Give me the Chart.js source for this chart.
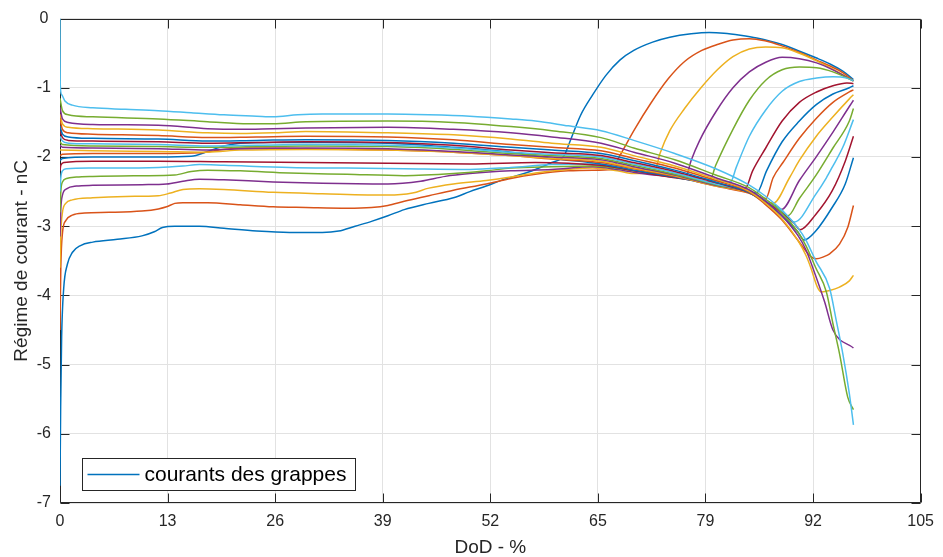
<!DOCTYPE html>
<html><head><meta charset="utf-8">
<script src="https://cdn.jsdelivr.net/npm/chart.js@4.4.1/dist/chart.umd.min.js"></script>
<style>html,body{margin:0;padding:0;background:#fff;}canvas{display:block;}</style>
</head><body>
<canvas id="c" width="943" height="557"></canvas>
<script>
// ---- data ----
const xTickLabels = ['0','13','26','39','52','65','79','92','105'];
const xTitle = 'DoD - %';
const yTitle = 'Régime de courant - nC';
const legendLabel = 'courants des grappes';

const cluster01 = [[0,-6.75],[0.08,-5.6],[0.2,-4.6],[0.45,-3.9],[0.9,-3.55],[1.5,-3.38],[2.5,-3.28],[4,-3.23],[7,-3.19],[10,-3.14],[11.5,-3.08],[12.5,-3.02],[14,-3.0],[17,-3.0],[20,-3.03],[24,-3.07],[28,-3.09],[32,-3.09],[34,-3.07],[36,-3.0],[38,-2.93],[40,-2.85],[42,-2.76],[45,-2.67],[48,-2.59],[50,-2.5],[52,-2.42],[54,-2.33],[56,-2.26],[58,-2.18],[60,-2.08],[61.5,-1.98],[62.3,-1.75],[63.5,-1.4],[65,-1.1],[66.6,-0.82],[68.3,-0.6],[70,-0.46],[72.3,-0.34],[74.4,-0.27],[77,-0.22],[79.2,-0.2],[81,-0.21],[83,-0.24],[85,-0.28],[88,-0.37],[90,-0.46],[92.3,-0.57],[94,-0.66],[95.5,-0.76],[96.8,-0.88]];
const cluster02 = [[0,-4.5],[0.1,-3.6],[0.3,-3.1],[0.7,-2.92],[1.5,-2.84],[3,-2.81],[6,-2.8],[10,-2.78],[12,-2.75],[13,-2.72],[14,-2.67],[15,-2.66],[18,-2.66],[22,-2.69],[26,-2.72],[30,-2.73],[35,-2.74],[38,-2.73],[40,-2.7],[42,-2.64],[45,-2.56],[48,-2.48],[52,-2.39],[55,-2.31],[58,-2.25],[62,-2.2],[65,-2.19],[67.3,-2.18],[68.3,-1.98],[70.1,-1.6],[72.1,-1.22],[74.2,-0.87],[76.2,-0.62],[78.3,-0.46],[80.3,-0.37],[82.1,-0.31],[84.1,-0.29],[86,-0.32],[88,-0.39],[90,-0.48],[92.3,-0.6],[94.2,-0.7],[95.5,-0.78],[96.8,-0.9]];
const cluster03 = [[0,-3.6],[0.1,-3.1],[0.3,-2.8],[0.7,-2.67],[1.5,-2.62],[4,-2.59],[8,-2.57],[12,-2.56],[13.5,-2.52],[15,-2.47],[17,-2.46],[20,-2.47],[26,-2.51],[32,-2.53],[40,-2.55],[43,-2.52],[45,-2.45],[48,-2.39],[52,-2.34],[55,-2.29],[58,-2.23],[62,-2.18],[65,-2.16],[68,-2.2],[70,-2.24],[72.5,-2.22],[73.2,-1.95],[74.4,-1.62],[76.2,-1.3],[78.2,-1.0],[80.2,-0.74],[82.1,-0.55],[84.1,-0.44],[86.1,-0.41],[88.1,-0.42],[90.2,-0.5],[92.3,-0.61],[94.3,-0.73],[96.8,-0.9]];
const cluster04 = [[0,-3.15],[0.1,-2.75],[0.3,-2.55],[0.8,-2.46],[2,-2.42],[4,-2.41],[10,-2.4],[13,-2.39],[15,-2.35],[17,-2.32],[20,-2.33],[26,-2.36],[32,-2.38],[40,-2.39],[44,-2.35],[47,-2.28],[50,-2.24],[55,-2.2],[60,-2.18],[65,-2.14],[68,-2.18],[71,-2.24],[74,-2.28],[76.3,-2.3],[77,-2.05],[78,-1.77],[80,-1.35],[82.1,-1.0],[84.1,-0.77],[86.1,-0.63],[88.1,-0.56],[90.2,-0.58],[92.3,-0.64],[94.3,-0.74],[96.8,-0.9]];
const cluster05 = [[0,-2.8],[0.1,-2.5],[0.3,-2.36],[0.8,-2.31],[2,-2.29],[4,-2.28],[10,-2.27],[14,-2.26],[16,-2.21],[18,-2.19],[22,-2.2],[28,-2.23],[35,-2.25],[42,-2.27],[48,-2.24],[52,-2.2],[55,-2.16],[60,-2.14],[65,-2.13],[70,-2.2],[74,-2.27],[77,-2.33],[79.2,-2.36],[80,-2.12],[82.1,-1.6],[84.1,-1.18],[86.1,-0.89],[88.1,-0.74],[90.2,-0.7],[92.3,-0.71],[94.3,-0.77],[96.8,-0.9]];
const cluster06 = [[0,-2.5],[0.1,-2.3],[0.3,-2.2],[0.8,-2.17],[4,-2.16],[12,-2.15],[15,-2.13],[17,-2.11],[20,-2.12],[28,-2.15],[35,-2.16],[42,-2.17],[50,-2.18],[55,-2.15],[60,-2.11],[65,-2.1],[70,-2.16],[75,-2.25],[79,-2.32],[81.8,-2.36],[82.5,-2.15],[84.1,-1.7],[86.1,-1.32],[88.1,-1.05],[90.2,-0.91],[92.3,-0.86],[94.3,-0.84],[96,-0.86],[96.8,-0.9]];
const cluster07 = [[0,-2.2],[0.1,-2.12],[0.5,-2.08],[4,-2.06],[12,-2.06],[20,-2.07],[30,-2.08],[40,-2.09],[50,-2.1],[58,-2.08],[62,-2.09],[66,-2.12],[70,-2.2],[75,-2.3],[80,-2.38],[83.6,-2.45],[84.5,-2.2],[86.1,-1.87],[88.1,-1.48],[90.2,-1.21],[92.3,-1.06],[94.3,-0.97],[96,-0.93],[96.8,-0.94]];
const cluster08 = [[0,-2.05],[0.3,-2.02],[4,-2.0],[12,-2.0],[16,-1.99],[18,-1.92],[20,-1.84],[22,-1.8],[26,-1.79],[32,-1.79],[40,-1.8],[48,-1.86],[55,-1.93],[60,-2.02],[66,-2.1],[70,-2.19],[75,-2.29],[80,-2.41],[83,-2.47],[85,-2.52],[86.2,-2.2],[88.1,-1.78],[90.2,-1.48],[92.3,-1.24],[94.3,-1.09],[96.3,-1.0],[96.8,-0.97]];
const cluster09 = [[0,-1.98],[0.3,-1.96],[4,-1.95],[12,-1.95],[17,-1.94],[20,-1.89],[23,-1.87],[30,-1.88],[40,-1.9],[48,-1.93],[55,-1.98],[60,-2.03],[66,-2.08],[70,-2.17],[75,-2.28],[80,-2.42],[84,-2.52],[86.1,-2.6],[87,-2.3],[88.2,-2.08],[90.2,-1.73],[92.2,-1.45],[94.3,-1.21],[96.3,-1.06],[96.8,-1.03]];
const cluster10 = [[0,-1.9],[4,-1.91],[12,-1.92],[18,-1.93],[22,-1.9],[30,-1.89],[40,-1.9],[48,-1.93],[55,-1.98],[60,-2.02],[66,-2.06],[70,-2.16],[75,-2.27],[80,-2.42],[84,-2.51],[86,-2.62],[87,-2.67],[89,-2.3],[90.2,-2.05],[92.2,-1.71],[94.3,-1.42],[96.3,-1.16],[96.8,-1.1]];
const cluster11 = [[0,-1.83],[0.3,-1.86],[4,-1.87],[12,-1.88],[18,-1.9],[22,-1.88],[30,-1.87],[40,-1.88],[48,-1.92],[55,-1.97],[60,-2.0],[66,-2.04],[70,-2.14],[75,-2.26],[80,-2.41],[84,-2.5],[86,-2.62],[88,-2.76],[90.2,-2.34],[92.3,-1.99],[94.3,-1.64],[96.3,-1.27],[96.8,-1.18]];
const cluster12 = [[0,-1.78],[0.3,-1.82],[4,-1.84],[12,-1.85],[18,-1.86],[24,-1.85],[30,-1.84],[40,-1.85],[48,-1.89],[55,-1.95],[60,-1.98],[66,-2.02],[70,-2.12],[75,-2.25],[80,-2.4],[84,-2.5],[86,-2.62],[88,-2.76],[88.8,-2.85],[90.2,-2.6],[92.2,-2.27],[94.3,-1.87],[96.3,-1.48],[96.8,-1.3]];
const cluster13 = [[0,-1.7],[0.3,-1.77],[1,-1.8],[4,-1.81],[12,-1.82],[18,-1.84],[24,-1.83],[30,-1.82],[40,-1.83],[48,-1.87],[55,-1.93],[60,-1.96],[66,-2.0],[70,-2.1],[75,-2.23],[80,-2.39],[84,-2.5],[86,-2.62],[88,-2.78],[89.6,-2.94],[92.2,-2.54],[93.5,-2.3],[94.2,-2.15],[95.5,-1.86],[96.8,-1.46]];
const cluster14 = [[0,-1.62],[0.3,-1.72],[1,-1.76],[4,-1.77],[12,-1.78],[18,-1.8],[24,-1.79],[30,-1.78],[40,-1.79],[48,-1.83],[55,-1.9],[60,-1.94],[66,-1.98],[70,-2.08],[75,-2.21],[80,-2.37],[84,-2.51],[86,-2.64],[88,-2.8],[89.5,-2.95],[90.3,-3.05],[92.2,-2.83],[94.2,-2.49],[95.8,-2.06],[96.8,-1.7]];
const cluster15 = [[0,-1.55],[0.3,-1.67],[1,-1.71],[4,-1.73],[12,-1.74],[18,-1.77],[24,-1.76],[30,-1.75],[40,-1.76],[48,-1.8],[55,-1.86],[60,-1.9],[66,-1.95],[70,-2.05],[75,-2.19],[80,-2.36],[84,-2.51],[86,-2.66],[88,-2.84],[90,-3.08],[90.8,-3.2],[92.2,-3.07],[94.2,-2.73],[95.8,-2.39],[96.8,-2.01]];
const cluster16 = [[0,-1.45],[0.3,-1.6],[1,-1.65],[4,-1.67],[12,-1.69],[18,-1.72],[24,-1.71],[30,-1.7],[40,-1.71],[48,-1.75],[55,-1.82],[60,-1.86],[66,-1.91],[70,-2.02],[75,-2.16],[80,-2.34],[84,-2.5],[86,-2.68],[88,-2.9],[90,-3.2],[91,-3.36],[91.6,-3.44],[92.3,-3.47],[93.2,-3.44],[93.9,-3.4],[95.1,-3.26],[96.1,-3.02],[96.8,-2.7]];
const cluster17 = [[0,-1.38],[0.3,-1.52],[1,-1.57],[4,-1.59],[12,-1.61],[18,-1.65],[22,-1.66],[26,-1.65],[30,-1.63],[40,-1.65],[48,-1.68],[55,-1.74],[60,-1.8],[66,-1.86],[70,-1.98],[75,-2.13],[80,-2.32],[84,-2.49],[86,-2.66],[88,-2.88],[90,-3.2],[91,-3.42],[91.6,-3.6],[92.4,-3.88],[92.9,-3.95],[93.9,-3.93],[95.1,-3.88],[96.3,-3.79],[96.8,-3.71]];
const cluster18 = [[0,-1.28],[0.3,-1.45],[1,-1.5],[4,-1.53],[12,-1.54],[18,-1.59],[22,-1.6],[26,-1.59],[30,-1.58],[40,-1.57],[48,-1.6],[55,-1.65],[60,-1.71],[66,-1.8],[70,-1.93],[75,-2.09],[80,-2.3],[84,-2.47],[86,-2.63],[88,-2.84],[90,-3.13],[91,-3.34],[92.2,-3.72],[93.3,-4.1],[94.3,-4.5],[96.8,-4.76]];
const cluster19 = [[0,-1.15],[0.3,-1.33],[1,-1.39],[4,-1.42],[12,-1.45],[18,-1.49],[23,-1.52],[26,-1.52],[30,-1.49],[40,-1.48],[48,-1.5],[55,-1.56],[60,-1.62],[66,-1.72],[70,-1.87],[75,-2.04],[80,-2.26],[84,-2.44],[86,-2.6],[88,-2.8],[90,-3.08],[91,-3.28],[92.2,-3.6],[93.5,-3.95],[94.3,-4.41],[95.1,-4.84],[96.1,-5.47],[96.8,-5.65]];
const cluster20 = [[0,0],[0.03,-0.95],[0.2,-1.1],[0.6,-1.19],[1.5,-1.25],[4,-1.29],[8,-1.31],[12,-1.33],[16,-1.36],[20,-1.39],[24,-1.41],[26,-1.42],[29,-1.39],[32,-1.38],[40,-1.38],[45,-1.39],[50,-1.41],[55,-1.45],[58,-1.48],[62,-1.55],[66,-1.62],[70,-1.76],[75,-1.95],[80,-2.17],[84,-2.4],[86,-2.56],[88,-2.76],[90,-3.02],[91,-3.2],[92.2,-3.5],[93.9,-3.9],[94.7,-4.36],[95.5,-4.84],[96.3,-5.42],[96.8,-5.87]];

const clusters = [cluster01,cluster02,cluster03,cluster04,cluster05,cluster06,cluster07,cluster08,cluster09,cluster10,
                  cluster11,cluster12,cluster13,cluster14,cluster15,cluster16,cluster17,cluster18,cluster19,cluster20];

// ---- styles ----
const palette = ['#0072BD','#D95319','#EDB120','#7E2F8E','#77AC30','#4DBEEE','#A2142F'];
const axisColor = '#262626';
const FONT = "'Liberation Sans', Arial, Helvetica, sans-serif";

const datasets = clusters.map((pts, i) => ({
  label: i === 0 ? legendLabel : 'grappe ' + (i + 1),
  data: pts.map(p => ({x: p[0], y: p[1]})),
  borderColor: palette[i % palette.length],
  borderWidth: 1.5,
  pointRadius: 0,
  fill: false,
  cubicInterpolationMode: 'monotone',
  order: clusters.length - i
}));

const framePlugin = {
  id: 'frame',
  beforeDatasetsDraw(chart) {
    const {ctx, chartArea: a, scales: {x, y}} = chart;
    ctx.save();
    ctx.strokeStyle = axisColor;
    ctx.lineWidth = 1;
    const L = Math.round(a.left) + 0.5, R = Math.round(a.right) - 0.5;
    const T = Math.round(a.top) + 0.5, B = Math.round(a.bottom) - 0.5;
    ctx.beginPath();
    ctx.rect(L, T, R - L, B - T);
    const tl = 9;
    x.ticks.forEach(t => {
      const px = Math.round(x.getPixelForValue(t.value)) + 0.5;
      ctx.moveTo(px, B); ctx.lineTo(px, B - tl);
      ctx.moveTo(px, T); ctx.lineTo(px, T + tl);
    });
    y.ticks.forEach(t => {
      const py = Math.round(y.getPixelForValue(t.value)) + 0.5;
      ctx.moveTo(L, py); ctx.lineTo(L + tl, py);
      ctx.moveTo(R, py); ctx.lineTo(R - tl, py);
    });
    ctx.stroke();
    ctx.restore();
  }
};

const legendPlugin = {
  id: 'boxLegend',
  afterDraw(chart) {
    const {ctx, chartArea: a} = chart;
    const bx = Math.round(a.left) + 22.5, by = Math.round(a.bottom) - 44.5;
    const bw = 273, bh = 32;
    ctx.save();
    ctx.fillStyle = '#ffffff';
    ctx.fillRect(bx, by, bw, bh);
    ctx.strokeStyle = axisColor;
    ctx.lineWidth = 1;
    ctx.strokeRect(bx, by, bw, bh);
    const ly = by + 16;
    ctx.strokeStyle = palette[0];
    ctx.lineWidth = 1.5;
    ctx.beginPath();
    ctx.moveTo(bx + 5, ly); ctx.lineTo(bx + 57, ly);
    ctx.stroke();
    ctx.fillStyle = '#000000';
    ctx.font = "21px " + FONT;
    ctx.textBaseline = 'middle';
    ctx.textAlign = 'left';
    ctx.fillText(chart.data.datasets[0].label, bx + 62, ly + 1);
    ctx.restore();
  }
};

new Chart(document.getElementById('c'), {
  type: 'line',
  data: {datasets},
  options: {
    responsive: false,
    animation: false,
    devicePixelRatio: 1,
    layout: {padding: {top: 17, right: 21, left: 0, bottom: 0}},
    plugins: {legend: {display: false}, tooltip: {enabled: false}},
    scales: {
      x: {
        type: 'linear', min: 0, max: 105,
        grid: {color: '#e2e2e2', drawTicks: false},
        border: {display: false},
        ticks: {
          stepSize: 13.125, autoSkip: false, maxRotation: 0, padding: 9,
          color: axisColor, font: {family: FONT, size: 16},
          callback: (v) => xTickLabels[Math.round(v / 13.125)]
        },
        title: {display: true, text: xTitle, color: axisColor,
                font: {family: FONT, size: 19, lineHeight: 1}, padding: {top: 0, bottom: 0}},
        afterFit: (s) => { s.height = 54; }
      },
      y: {
        type: 'linear', min: -7, max: 0,
        grid: {color: '#e2e2e2', drawTicks: false},
        border: {display: false},
        ticks: {stepSize: 1, crossAlign: 'center', padding: 9, color: axisColor,
                font: {family: FONT, size: 16}},
        title: {display: true, text: yTitle, color: axisColor,
                font: {family: FONT, size: 19, lineHeight: 1}, padding: {top: 12, bottom: 0}},
        afterFit: (s) => { s.width = 60; }
      }
    }
  },
  plugins: [framePlugin, legendPlugin]
});
</script>
</body></html>
